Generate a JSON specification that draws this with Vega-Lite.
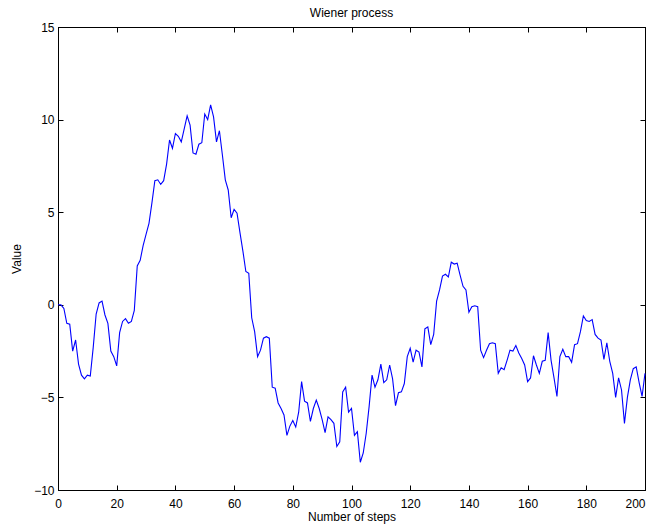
{
  "$schema": "https://vega.github.io/schema/vega-lite/v6.json",
  "width": 587,
  "height": 463,
  "autosize": {"type": "none"},
  "padding": {"left": 58, "top": 27, "right": 10, "bottom": 39},
  "background": "white",
  "title": {"text": "Wiener process", "fontSize": 12, "fontWeight": "normal", "font": "Liberation Sans", "color": "black", "offset": 1},
  "config": {
    "view": {"stroke": "black", "strokeWidth": 1},
    "axis": {"grid": false, "domainColor": "black", "tickColor": "black", "labelColor": "black", "titleColor": "black", "labelFont": "Liberation Sans", "titleFont": "Liberation Sans", "labelFontSize": 12, "titleFontSize": 12, "titleFontWeight": "normal", "tickSize": -5, "labelPadding": 9}
  },
  "data": {"values": [
    {"s":0,"v":0},{"s":1,"v":0},{"s":2,"v":-0.2},{"s":3,"v":-1.0},{"s":4,"v":-1.05},{"s":5,"v":-2.5},{"s":6,"v":-1.9},{"s":7,"v":-3.2},{"s":8,"v":-3.8},{"s":9,"v":-4.0},
    {"s":10,"v":-3.8},{"s":11,"v":-3.85},{"s":12,"v":-2.3},{"s":13,"v":-0.5},{"s":14,"v":0.1},{"s":15,"v":0.2},{"s":16,"v":-0.55},{"s":17,"v":-1.0},{"s":18,"v":-2.5},{"s":19,"v":-2.8},
    {"s":20,"v":-3.3},{"s":21,"v":-1.5},{"s":22,"v":-0.9},{"s":23,"v":-0.75},{"s":24,"v":-1.0},{"s":25,"v":-0.9},{"s":26,"v":-0.3},{"s":27,"v":2.1},{"s":28,"v":2.4},{"s":29,"v":3.2},
    {"s":30,"v":3.8},{"s":31,"v":4.4},{"s":32,"v":5.5},{"s":33,"v":6.7},{"s":34,"v":6.75},{"s":35,"v":6.5},{"s":36,"v":6.7},{"s":37,"v":7.6},{"s":38,"v":8.9},{"s":39,"v":8.45},
    {"s":40,"v":9.25},{"s":41,"v":9.1},{"s":42,"v":8.8},{"s":43,"v":9.5},{"s":44,"v":10.2},{"s":45,"v":9.7},{"s":46,"v":8.2},{"s":47,"v":8.13},{"s":48,"v":8.67},{"s":49,"v":8.75},
    {"s":50,"v":10.3},{"s":51,"v":10.0},{"s":52,"v":10.8},{"s":53,"v":10.15},{"s":54,"v":8.8},{"s":55,"v":9.4},{"s":56,"v":8.1},{"s":57,"v":6.75},{"s":58,"v":6.2},{"s":59,"v":4.7},
    {"s":60,"v":5.15},{"s":61,"v":4.95},{"s":62,"v":3.9},{"s":63,"v":2.9},{"s":64,"v":1.8},{"s":65,"v":1.7},{"s":66,"v":-0.7},{"s":67,"v":-1.45},{"s":68,"v":-2.8},{"s":69,"v":-2.45},
    {"s":70,"v":-1.8},{"s":71,"v":-1.72},{"s":72,"v":-1.8},{"s":73,"v":-4.45},{"s":74,"v":-4.5},{"s":75,"v":-5.3},{"s":76,"v":-5.6},{"s":77,"v":-5.95},{"s":78,"v":-7.05},{"s":79,"v":-6.55},
    {"s":80,"v":-6.25},{"s":81,"v":-6.6},{"s":82,"v":-5.8},{"s":83,"v":-4.15},{"s":84,"v":-5.2},{"s":85,"v":-5.3},{"s":86,"v":-6.3},{"s":87,"v":-5.6},{"s":88,"v":-5.15},{"s":89,"v":-5.6},
    {"s":90,"v":-6.2},{"s":91,"v":-6.9},{"s":92,"v":-6.05},{"s":93,"v":-6.2},{"s":94,"v":-6.4},{"s":95,"v":-7.65},{"s":96,"v":-7.4},{"s":97,"v":-4.7},{"s":98,"v":-4.45},{"s":99,"v":-5.8},
    {"s":100,"v":-5.6},{"s":101,"v":-7.05},{"s":102,"v":-6.85},{"s":103,"v":-8.5},{"s":104,"v":-8.0},{"s":105,"v":-6.95},{"s":106,"v":-5.5},{"s":107,"v":-3.8},{"s":108,"v":-4.45},{"s":109,"v":-4.05},
    {"s":110,"v":-3.2},{"s":111,"v":-4.2},{"s":112,"v":-4.05},{"s":113,"v":-3.25},{"s":114,"v":-4.0},{"s":115,"v":-5.45},{"s":116,"v":-4.75},{"s":117,"v":-4.7},{"s":118,"v":-4.25},{"s":119,"v":-2.8},
    {"s":120,"v":-2.35},{"s":121,"v":-3.1},{"s":122,"v":-2.45},{"s":123,"v":-2.55},{"s":124,"v":-3.35},{"s":125,"v":-1.3},{"s":126,"v":-1.2},{"s":127,"v":-2.15},{"s":128,"v":-1.6},{"s":129,"v":0.2},
    {"s":130,"v":0.8},{"s":131,"v":1.55},{"s":132,"v":1.65},{"s":133,"v":1.5},{"s":134,"v":2.3},{"s":135,"v":2.2},{"s":136,"v":2.25},{"s":137,"v":1.6},{"s":138,"v":1.0},{"s":139,"v":0.8},
    {"s":140,"v":-0.4},{"s":141,"v":-0.1},{"s":142,"v":-0.05},{"s":143,"v":-0.1},{"s":144,"v":-2.45},{"s":145,"v":-2.85},{"s":146,"v":-2.45},{"s":147,"v":-2.1},{"s":148,"v":-2.05},{"s":149,"v":-2.1},
    {"s":150,"v":-3.7},{"s":151,"v":-3.4},{"s":152,"v":-3.5},{"s":153,"v":-3.0},{"s":154,"v":-2.45},{"s":155,"v":-2.5},{"s":156,"v":-2.2},{"s":157,"v":-2.6},{"s":158,"v":-2.9},{"s":159,"v":-3.25},
    {"s":160,"v":-4.15},{"s":161,"v":-3.95},{"s":162,"v":-2.75},{"s":163,"v":-3.25},{"s":164,"v":-3.7},{"s":165,"v":-3.05},{"s":166,"v":-3.0},{"s":167,"v":-1.5},{"s":168,"v":-3.0},{"s":169,"v":-3.95},
    {"s":170,"v":-4.95},{"s":171,"v":-2.8},{"s":172,"v":-2.4},{"s":173,"v":-2.8},{"s":174,"v":-2.8},{"s":175,"v":-3.1},{"s":176,"v":-2.15},{"s":177,"v":-2.1},{"s":178,"v":-1.45},{"s":179,"v":-0.6},
    {"s":180,"v":-0.85},{"s":181,"v":-0.9},{"s":182,"v":-0.8},{"s":183,"v":-1.6},{"s":184,"v":-1.8},{"s":185,"v":-1.9},{"s":186,"v":-2.95},{"s":187,"v":-2.05},{"s":188,"v":-3.05},{"s":189,"v":-3.7},
    {"s":190,"v":-5.0},{"s":191,"v":-3.95},{"s":192,"v":-4.6},{"s":193,"v":-6.4},{"s":194,"v":-5.0},{"s":195,"v":-4.05},{"s":196,"v":-3.45},{"s":197,"v":-3.35},{"s":198,"v":-4.2},{"s":199,"v":-4.95},
    {"s":200,"v":-3.7}
  ]},
  "layer": [
    {
      "mark": {"type": "line", "color": "#0000ff", "strokeWidth": 1.1},
      "encoding": {
        "x": {"field": "s", "type": "quantitative", "scale": {"domain": [0, 200], "nice": false}, "axis": {"orient": "bottom", "title": "Number of steps", "values": [0,20,40,60,80,100,120,140,160,180,200], "labelFlush": false, "labelAlign": {"expr": "datum.value == 200 ? 'right' : 'center'"}, "labelPadding": 13, "titlePadding": 2}},
        "y": {"field": "v", "type": "quantitative", "scale": {"domain": [-10, 15], "nice": false}, "axis": {"orient": "left", "title": "Value", "values": [-10,-5,0,5,10,15], "titlePadding": 10}}
      }
    },
    {
      "mark": {"type": "line", "opacity": 0},
      "encoding": {
        "x": {"field": "s", "type": "quantitative", "scale": {"domain": [0, 200], "nice": false}, "axis": {"orient": "top", "title": null, "labels": false, "values": [0,20,40,60,80,100,120,140,160,180,200]}},
        "y": {"field": "v", "type": "quantitative", "scale": {"domain": [-10, 15], "nice": false}, "axis": {"orient": "right", "title": null, "labels": false, "values": [-10,-5,0,5,10,15]}}
      }
    }
  ],
  "resolve": {"axis": {"x": "independent", "y": "independent"}}
}
